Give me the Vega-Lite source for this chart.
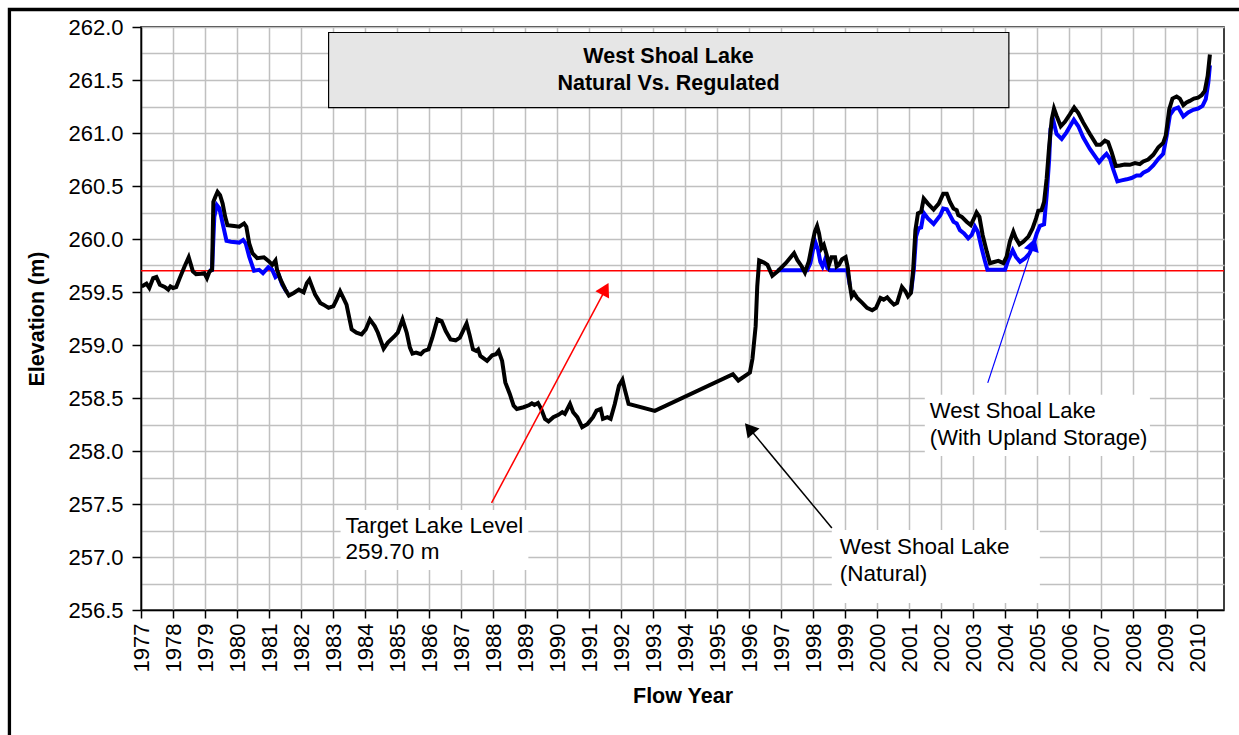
{
  "$schema": "https://vega.github.io/schema/vega-lite/v6.json",
  "autosize": "none",
  "width": 1083,
  "height": 583,
  "padding": {"left": 141, "top": 27, "right": 15, "bottom": 125},
  "background": "white",
  "data": {"values": [{}]},
  "config": {
    "font": "Liberation Sans",
    "view": {"stroke": "black", "strokeWidth": 1.5},
    "axis": {
      "gridColor": "#c0c0c0", "gridWidth": 1.5, "gridOpacity": 1,
      "domainColor": "black", "domainWidth": 1.5,
      "tickColor": "black", "tickWidth": 1.5,
      "labelFont": "Liberation Sans", "labelFontSize": 22, "labelColor": "black",
      "titleFont": "Liberation Sans", "titleFontSize": 21.5, "titleFontWeight": "bold", "titleColor": "black"
    }
  },
  "datasets": {
    "natural": [
      {"x":1977.02,"y":259.553},{"x":1977.17,"y":259.578},{"x":1977.26,"y":259.538},{"x":1977.38,"y":259.631},{"x":1977.48,"y":259.641},{"x":1977.59,"y":259.569},{"x":1977.74,"y":259.547},{"x":1977.85,"y":259.522},{"x":1977.92,"y":259.553},{"x":1978.00,"y":259.538},{"x":1978.10,"y":259.547},{"x":1978.21,"y":259.631},{"x":1978.36,"y":259.741},{"x":1978.49,"y":259.828},{"x":1978.62,"y":259.694},{"x":1978.72,"y":259.669},{"x":1978.88,"y":259.672},{"x":1978.98,"y":259.678},{"x":1979.06,"y":259.631},{"x":1979.14,"y":259.694},{"x":1979.22,"y":259.709},{"x":1979.26,"y":260.35},{"x":1979.32,"y":260.397},{"x":1979.39,"y":260.444},{"x":1979.47,"y":260.413},{"x":1979.55,"y":260.334},{"x":1979.63,"y":260.209},{"x":1979.70,"y":260.131},{"x":1979.91,"y":260.122},{"x":1980.07,"y":260.116},{"x":1980.22,"y":260.147},{"x":1980.29,"y":260.116},{"x":1980.38,"y":259.959},{"x":1980.48,"y":259.866},{"x":1980.63,"y":259.819},{"x":1980.84,"y":259.828},{"x":1981.00,"y":259.788},{"x":1981.10,"y":259.756},{"x":1981.20,"y":259.797},{"x":1981.25,"y":259.709},{"x":1981.36,"y":259.616},{"x":1981.51,"y":259.522},{"x":1981.62,"y":259.466},{"x":1981.77,"y":259.491},{"x":1981.93,"y":259.522},{"x":1982.08,"y":259.497},{"x":1982.18,"y":259.584},{"x":1982.26,"y":259.616},{"x":1982.34,"y":259.553},{"x":1982.44,"y":259.475},{"x":1982.60,"y":259.397},{"x":1982.70,"y":259.381},{"x":1982.86,"y":259.35},{"x":1983.01,"y":259.366},{"x":1983.11,"y":259.428},{"x":1983.22,"y":259.506},{"x":1983.32,"y":259.444},{"x":1983.42,"y":259.381},{"x":1983.58,"y":259.147},{"x":1983.73,"y":259.116},{"x":1983.89,"y":259.1},{"x":1984.02,"y":259.147},{"x":1984.15,"y":259.241},{"x":1984.30,"y":259.178},{"x":1984.40,"y":259.116},{"x":1984.58,"y":258.966},{"x":1984.71,"y":259.022},{"x":1984.92,"y":259.084},{"x":1985.02,"y":259.116},{"x":1985.17,"y":259.241},{"x":1985.30,"y":259.116},{"x":1985.40,"y":258.975},{"x":1985.48,"y":258.919},{"x":1985.59,"y":258.928},{"x":1985.74,"y":258.913},{"x":1985.84,"y":258.944},{"x":1985.98,"y":258.959},{"x":1986.10,"y":259.069},{"x":1986.26,"y":259.241},{"x":1986.39,"y":259.225},{"x":1986.52,"y":259.131},{"x":1986.67,"y":259.053},{"x":1986.83,"y":259.044},{"x":1986.96,"y":259.069},{"x":1987.17,"y":259.203},{"x":1987.26,"y":259.1},{"x":1987.37,"y":258.959},{"x":1987.47,"y":258.944},{"x":1987.53,"y":258.959},{"x":1987.60,"y":258.897},{"x":1987.81,"y":258.85},{"x":1987.97,"y":258.903},{"x":1988.09,"y":258.913},{"x":1988.17,"y":258.944},{"x":1988.28,"y":258.85},{"x":1988.38,"y":258.647},{"x":1988.52,"y":258.538},{"x":1988.64,"y":258.428},{"x":1988.74,"y":258.397},{"x":1988.95,"y":258.413},{"x":1989.13,"y":258.434},{"x":1989.21,"y":258.45},{"x":1989.29,"y":258.434},{"x":1989.40,"y":258.453},{"x":1989.50,"y":258.397},{"x":1989.62,"y":258.303},{"x":1989.73,"y":258.278},{"x":1989.88,"y":258.319},{"x":1990.04,"y":258.341},{"x":1990.16,"y":258.366},{"x":1990.24,"y":258.35},{"x":1990.40,"y":258.444},{"x":1990.50,"y":258.366},{"x":1990.63,"y":258.319},{"x":1990.78,"y":258.225},{"x":1990.95,"y":258.256},{"x":1991.12,"y":258.319},{"x":1991.23,"y":258.381},{"x":1991.36,"y":258.397},{"x":1991.43,"y":258.303},{"x":1991.57,"y":258.319},{"x":1991.67,"y":258.303},{"x":1991.80,"y":258.444},{"x":1991.93,"y":258.616},{"x":1992.04,"y":258.672},{"x":1992.11,"y":258.584},{"x":1992.23,"y":258.444},{"x":1993.05,"y":258.378},{"x":1995.49,"y":258.725},{"x":1995.66,"y":258.665},{"x":1996.02,"y":258.74},{"x":1996.10,"y":258.87},{"x":1996.20,"y":259.178},{"x":1996.25,"y":259.553},{"x":1996.31,"y":259.797},{"x":1996.46,"y":259.778},{"x":1996.57,"y":259.756},{"x":1996.72,"y":259.653},{"x":1996.88,"y":259.694},{"x":1997.14,"y":259.772},{"x":1997.40,"y":259.866},{"x":1997.50,"y":259.803},{"x":1997.64,"y":259.741},{"x":1997.74,"y":259.684},{"x":1997.86,"y":259.788},{"x":1997.97,"y":259.959},{"x":1998.05,"y":260.069},{"x":1998.12,"y":260.122},{"x":1998.18,"y":260.053},{"x":1998.26,"y":259.913},{"x":1998.33,"y":259.944},{"x":1998.42,"y":259.85},{"x":1998.49,"y":259.756},{"x":1998.57,"y":259.828},{"x":1998.68,"y":259.828},{"x":1998.73,"y":259.741},{"x":1998.80,"y":259.756},{"x":1998.90,"y":259.809},{"x":1999.01,"y":259.828},{"x":1999.08,"y":259.725},{"x":1999.14,"y":259.569},{"x":1999.20,"y":259.459},{"x":1999.27,"y":259.491},{"x":1999.37,"y":259.444},{"x":1999.53,"y":259.397},{"x":1999.68,"y":259.35},{"x":1999.84,"y":259.328},{"x":1999.96,"y":259.35},{"x":2000.10,"y":259.444},{"x":2000.20,"y":259.428},{"x":2000.31,"y":259.45},{"x":2000.41,"y":259.413},{"x":2000.52,"y":259.381},{"x":2000.62,"y":259.397},{"x":2000.77,"y":259.547},{"x":2000.88,"y":259.506},{"x":2000.96,"y":259.459},{"x":2001.05,"y":259.491},{"x":2001.12,"y":259.709},{"x":2001.19,"y":260.084},{"x":2001.27,"y":260.241},{"x":2001.37,"y":260.256},{"x":2001.45,"y":260.381},{"x":2001.58,"y":260.334},{"x":2001.76,"y":260.278},{"x":2001.92,"y":260.334},{"x":2002.06,"y":260.428},{"x":2002.17,"y":260.428},{"x":2002.27,"y":260.35},{"x":2002.38,"y":260.288},{"x":2002.48,"y":260.272},{"x":2002.53,"y":260.225},{"x":2002.64,"y":260.209},{"x":2002.79,"y":260.163},{"x":2002.92,"y":260.131},{"x":2003.02,"y":260.194},{"x":2003.10,"y":260.25},{"x":2003.19,"y":260.209},{"x":2003.29,"y":260.038},{"x":2003.42,"y":259.881},{"x":2003.52,"y":259.772},{"x":2003.62,"y":259.781},{"x":2003.78,"y":259.794},{"x":2003.94,"y":259.772},{"x":2004.04,"y":259.834},{"x":2004.14,"y":259.975},{"x":2004.25,"y":260.069},{"x":2004.33,"y":260.006},{"x":2004.44,"y":259.95},{"x":2004.56,"y":259.975},{"x":2004.72,"y":260.022},{"x":2004.85,"y":260.10},{"x":2004.96,"y":260.194},{"x":2005.03,"y":260.266},{"x":2005.13,"y":260.272},{"x":2005.21,"y":260.35},{"x":2005.29,"y":260.569},{"x":2005.37,"y":260.881},{"x":2005.45,"y":261.131},{"x":2005.52,"y":261.231},{"x":2005.60,"y":261.163},{"x":2005.73,"y":261.063},{"x":2005.86,"y":261.106},{"x":2006.02,"y":261.178},{"x":2006.15,"y":261.241},{"x":2006.28,"y":261.188},{"x":2006.43,"y":261.10},{"x":2006.64,"y":260.991},{"x":2006.85,"y":260.888},{"x":2006.97,"y":260.888},{"x":2007.11,"y":260.928},{"x":2007.21,"y":260.913},{"x":2007.32,"y":260.819},{"x":2007.45,"y":260.688},{"x":2007.58,"y":260.694},{"x":2007.73,"y":260.703},{"x":2007.89,"y":260.70},{"x":2008.05,"y":260.716},{"x":2008.20,"y":260.706},{"x":2008.31,"y":260.731},{"x":2008.46,"y":260.75},{"x":2008.62,"y":260.794},{"x":2008.78,"y":260.866},{"x":2008.93,"y":260.906},{"x":2009.01,"y":260.975},{"x":2009.12,"y":261.225},{"x":2009.22,"y":261.325},{"x":2009.35,"y":261.344},{"x":2009.45,"y":261.325},{"x":2009.56,"y":261.263},{"x":2009.66,"y":261.288},{"x":2009.76,"y":261.303},{"x":2009.89,"y":261.325},{"x":2010.02,"y":261.334},{"x":2010.13,"y":261.356},{"x":2010.23,"y":261.397},{"x":2010.32,"y":261.538},{"x":2010.39,"y":261.741}
    ],
    "regulated": [
      {"seg":1,"x":1979.14,"y":259.703},{"seg":1,"x":1979.22,"y":259.709},{"seg":1,"x":1979.29,"y":260.209},{"seg":1,"x":1979.37,"y":260.319},{"seg":1,"x":1979.45,"y":260.288},{"seg":1,"x":1979.55,"y":260.147},{"seg":1,"x":1979.67,"y":259.984},{"seg":1,"x":1979.81,"y":259.975},{"seg":1,"x":1980.07,"y":259.966},{"seg":1,"x":1980.19,"y":259.991},{"seg":1,"x":1980.27,"y":259.959},{"seg":1,"x":1980.38,"y":259.834},{"seg":1,"x":1980.53,"y":259.70},{"seg":1,"x":1980.69,"y":259.709},{"seg":1,"x":1980.81,"y":259.678},{"seg":1,"x":1980.98,"y":259.734},{"seg":1,"x":1981.10,"y":259.709},{"seg":1,"x":1981.20,"y":259.641},{"seg":1,"x":1981.30,"y":259.663},{"seg":1,"x":1981.41,"y":259.569},{"seg":1,"x":1981.56,"y":259.497},
      {"seg":2,"x":1996.88,"y":259.705},{"seg":2,"x":1997.81,"y":259.705},{"seg":2,"x":1997.91,"y":259.772},{"seg":2,"x":1997.99,"y":259.897},{"seg":2,"x":1998.06,"y":259.975},{"seg":2,"x":1998.15,"y":259.897},{"seg":2,"x":1998.22,"y":259.784},{"seg":2,"x":1998.29,"y":259.741},{"seg":2,"x":1998.37,"y":259.809},{"seg":2,"x":1998.44,"y":259.725},{"seg":2,"x":1998.52,"y":259.705},{"seg":2,"x":1999.06,"y":259.705},{"seg":2,"x":1999.14,"y":259.569},
      {"seg":3,"x":2001.05,"y":259.491},{"seg":3,"x":2001.14,"y":259.709},{"seg":3,"x":2001.21,"y":260.022},{"seg":3,"x":2001.29,"y":260.10},{"seg":3,"x":2001.37,"y":260.109},{"seg":3,"x":2001.45,"y":260.247},{"seg":3,"x":2001.58,"y":260.194},{"seg":3,"x":2001.76,"y":260.141},{"seg":3,"x":2001.97,"y":260.225},{"seg":3,"x":2002.06,"y":260.288},{"seg":3,"x":2002.17,"y":260.281},{"seg":3,"x":2002.27,"y":260.225},{"seg":3,"x":2002.38,"y":260.163},{"seg":3,"x":2002.48,"y":260.147},{"seg":3,"x":2002.58,"y":260.084},{"seg":3,"x":2002.71,"y":260.053},{"seg":3,"x":2002.84,"y":260.006},{"seg":3,"x":2002.95,"y":260.038},{"seg":3,"x":2003.05,"y":260.116},{"seg":3,"x":2003.14,"y":260.069},{"seg":3,"x":2003.26,"y":259.913},{"seg":3,"x":2003.36,"y":259.794},{"seg":3,"x":2003.44,"y":259.71},{"seg":3,"x":2003.99,"y":259.71},{"seg":3,"x":2004.09,"y":259.80},{"seg":3,"x":2004.23,"y":259.894},{"seg":3,"x":2004.33,"y":259.831},{"seg":3,"x":2004.46,"y":259.784},{"seg":3,"x":2004.61,"y":259.816},{"seg":3,"x":2004.75,"y":259.863},{"seg":3,"x":2004.87,"y":259.941},{"seg":3,"x":2004.98,"y":260.053},{"seg":3,"x":2005.08,"y":260.125},{"seg":3,"x":2005.21,"y":260.138},{"seg":3,"x":2005.29,"y":260.413},{"seg":3,"x":2005.37,"y":260.756},{"seg":3,"x":2005.41,"y":261.038},{"seg":3,"x":2005.50,"y":261.116},{"seg":3,"x":2005.60,"y":260.991},{"seg":3,"x":2005.76,"y":260.944},{"seg":3,"x":2005.91,"y":261.006},{"seg":3,"x":2006.02,"y":261.063},{"seg":3,"x":2006.14,"y":261.125},{"seg":3,"x":2006.28,"y":261.063},{"seg":3,"x":2006.43,"y":260.959},{"seg":3,"x":2006.64,"y":260.85},{"seg":3,"x":2006.93,"y":260.725},{"seg":3,"x":2007.06,"y":260.772},{"seg":3,"x":2007.16,"y":260.803},{"seg":3,"x":2007.27,"y":260.756},{"seg":3,"x":2007.37,"y":260.656},{"seg":3,"x":2007.50,"y":260.544},{"seg":3,"x":2007.63,"y":260.553},{"seg":3,"x":2007.79,"y":260.563},{"seg":3,"x":2007.94,"y":260.575},{"seg":3,"x":2008.10,"y":260.60},{"seg":3,"x":2008.22,"y":260.60},{"seg":3,"x":2008.31,"y":260.625},{"seg":3,"x":2008.46,"y":260.647},{"seg":3,"x":2008.62,"y":260.694},{"seg":3,"x":2008.78,"y":260.756},{"seg":3,"x":2008.93,"y":260.803},{"seg":3,"x":2009.04,"y":260.975},{"seg":3,"x":2009.14,"y":261.169},{"seg":3,"x":2009.27,"y":261.225},{"seg":3,"x":2009.40,"y":261.241},{"seg":3,"x":2009.56,"y":261.156},{"seg":3,"x":2009.71,"y":261.194},{"seg":3,"x":2009.87,"y":261.219},{"seg":3,"x":2010.02,"y":261.231},{"seg":3,"x":2010.16,"y":261.256},{"seg":3,"x":2010.26,"y":261.319},{"seg":3,"x":2010.34,"y":261.475},{"seg":3,"x":2010.39,"y":261.638}
    ]
  },
  "encoding": {
    "x": {
      "type": "quantitative",
      "scale": {"domain": [1977, 2010.83], "nice": false, "zero": false},
      "axis": {
        "title": "Flow Year",
        "values": [1977,1978,1979,1980,1981,1982,1983,1984,1985,1986,1987,1988,1989,1990,1991,1992,1993,1994,1995,1996,1997,1998,1999,2000,2001,2002,2003,2004,2005,2006,2007,2008,2009,2010],
        "format": "d",
        "labelAngle": 270,
        "labelPadding": 5,
        "tickSize": 8,
        "titlePadding": 14,
        "grid": true
      }
    },
    "y": {
      "type": "quantitative",
      "scale": {"domain": [256.5, 262], "nice": false, "zero": false},
      "axis": {
        "title": "Elevation (m)",
        "values": [256.5,256.75,257,257.25,257.5,257.75,258,258.25,258.5,258.75,259,259.25,259.5,259.75,260,260.25,260.5,260.75,261,261.25,261.5,261.75,262],
        "labelExpr": "abs(datum.value*2 - round(datum.value*2)) < 0.001 ? format(datum.value, '.1f') : ''",
        "tickOpacity": {"condition": {"test": "abs(datum.value*2 - round(datum.value*2)) < 0.001", "value": 1}, "value": 0},
        "tickSize": 9,
        "labelPadding": 9,
        "titlePadding": 19,
        "grid": true
      }
    }
  },
  "layer": [
    {
      "mark": {"type": "rect", "fill": "#e6e6e6", "stroke": "black", "strokeWidth": 1.2},
      "encoding": {"x": {"datum": 1982.86}, "x2": {"datum": 2004.11}, "y": {"datum": 261.948}, "y2": {"datum": 261.24}}
    },
    {
      "mark": {"type": "text", "text": "West Shoal Lake", "fontSize": 21.5, "fontWeight": "bold", "align": "center", "baseline": "middle", "color": "black"},
      "encoding": {"x": {"datum": 1993.48}, "y": {"datum": 261.721}}
    },
    {
      "mark": {"type": "text", "text": "Natural Vs. Regulated", "fontSize": 21.5, "fontWeight": "bold", "align": "center", "baseline": "middle", "color": "black"},
      "encoding": {"x": {"datum": 1993.48}, "y": {"datum": 261.466}}
    },
    {
      "mark": {"type": "rule", "color": "#ff0000", "strokeWidth": 1.5},
      "encoding": {"y": {"datum": 259.7}}
    },
    {
      "data": {"name": "regulated"},
      "mark": {"type": "line", "color": "#0000ff", "strokeWidth": 4},
      "encoding": {"x": {"field": "x"}, "y": {"field": "y"}, "detail": {"field": "seg", "type": "nominal"}}
    },
    {
      "data": {"name": "natural"},
      "mark": {"type": "line", "color": "black", "strokeWidth": 4},
      "encoding": {"x": {"field": "x"}, "y": {"field": "y"}}
    },
    {
      "mark": {"type": "rect", "fill": "white"},
      "encoding": {"x": {"datum": 1983.234}, "x2": {"datum": 1989.1}, "y": {"datum": 257.444}, "y2": {"datum": 256.877}}
    },
    {
      "mark": {"type": "rect", "fill": "white"},
      "encoding": {"x": {"datum": 1998.578}, "x2": {"datum": 2005.078}, "y": {"datum": 257.255}, "y2": {"datum": 256.566}}
    },
    {
      "mark": {"type": "rect", "fill": "white"},
      "encoding": {"x": {"datum": 2001.484}, "x2": {"datum": 2008.516}, "y": {"datum": 258.53}, "y2": {"datum": 257.954}}
    },
    {
      "mark": {"type": "text", "text": "Target Lake Level", "fontSize": 22.5, "align": "left", "baseline": "middle", "color": "black"},
      "encoding": {"x": {"datum": 1983.39}, "y": {"datum": 257.296}}
    },
    {
      "mark": {"type": "text", "text": "259.70 m", "fontSize": 22.5, "align": "left", "baseline": "middle", "color": "black"},
      "encoding": {"x": {"datum": 1983.39}, "y": {"datum": 257.05}}
    },
    {
      "mark": {"type": "text", "text": "West Shoal Lake", "fontSize": 22.5, "align": "left", "baseline": "middle", "color": "black"},
      "encoding": {"x": {"datum": 1998.83}, "y": {"datum": 257.097}}
    },
    {
      "mark": {"type": "text", "text": "(Natural)", "fontSize": 22.5, "align": "left", "baseline": "middle", "color": "black"},
      "encoding": {"x": {"datum": 1998.83}, "y": {"datum": 256.84}}
    },
    {
      "mark": {"type": "text", "text": "West Shoal Lake", "fontSize": 22, "align": "left", "baseline": "middle", "color": "black"},
      "encoding": {"x": {"datum": 2001.64}, "y": {"datum": 258.379}}
    },
    {
      "mark": {"type": "text", "text": "(With Upland Storage)", "fontSize": 22, "align": "left", "baseline": "middle", "color": "black"},
      "encoding": {"x": {"datum": 2001.64}, "y": {"datum": 258.124}}
    },
    {
      "mark": {"type": "rule", "color": "#ff0000", "strokeWidth": 1.5},
      "encoding": {"x": {"datum": 1987.95}, "y": {"datum": 257.51}, "x2": {"datum": 1991.5}, "y2": {"datum": 259.52}}
    },
    {
      "mark": {"type": "point", "shape": "triangle-up", "filled": true, "size": 240, "angle": 28, "color": "#ff0000", "opacity": 1},
      "encoding": {"x": {"datum": 1991.506}, "y": {"datum": 259.529}}
    },
    {
      "mark": {"type": "rule", "color": "black", "strokeWidth": 1.5},
      "encoding": {"x": {"datum": 1998.58}, "y": {"datum": 257.274}, "x2": {"datum": 1996.0}, "y2": {"datum": 258.214}}
    },
    {
      "mark": {"type": "point", "shape": "triangle-up", "filled": true, "size": 240, "angle": 320, "color": "black", "opacity": 1},
      "encoding": {"x": {"datum": 1996.0}, "y": {"datum": 258.214}}
    },
    {
      "mark": {"type": "rule", "color": "#0000ff", "strokeWidth": 1.2},
      "encoding": {"x": {"datum": 2003.45}, "y": {"datum": 258.643}, "x2": {"datum": 2004.875}, "y2": {"datum": 259.95}}
    },
    {
      "mark": {"type": "point", "shape": "triangle-up", "filled": true, "size": 240, "angle": 18, "color": "#0000ff", "opacity": 1},
      "encoding": {"x": {"datum": 2004.875}, "y": {"datum": 259.95}}
    },
    {
      "mark": {"type": "rect", "fill": null, "fillOpacity": 0, "stroke": "black", "strokeWidth": 3.3},
      "encoding": {"x": {"datum": 1972.89}, "x2": {"datum": 2013}, "y": {"datum": 262.165}, "y2": {"datum": 255}}
    }
  ]
}
